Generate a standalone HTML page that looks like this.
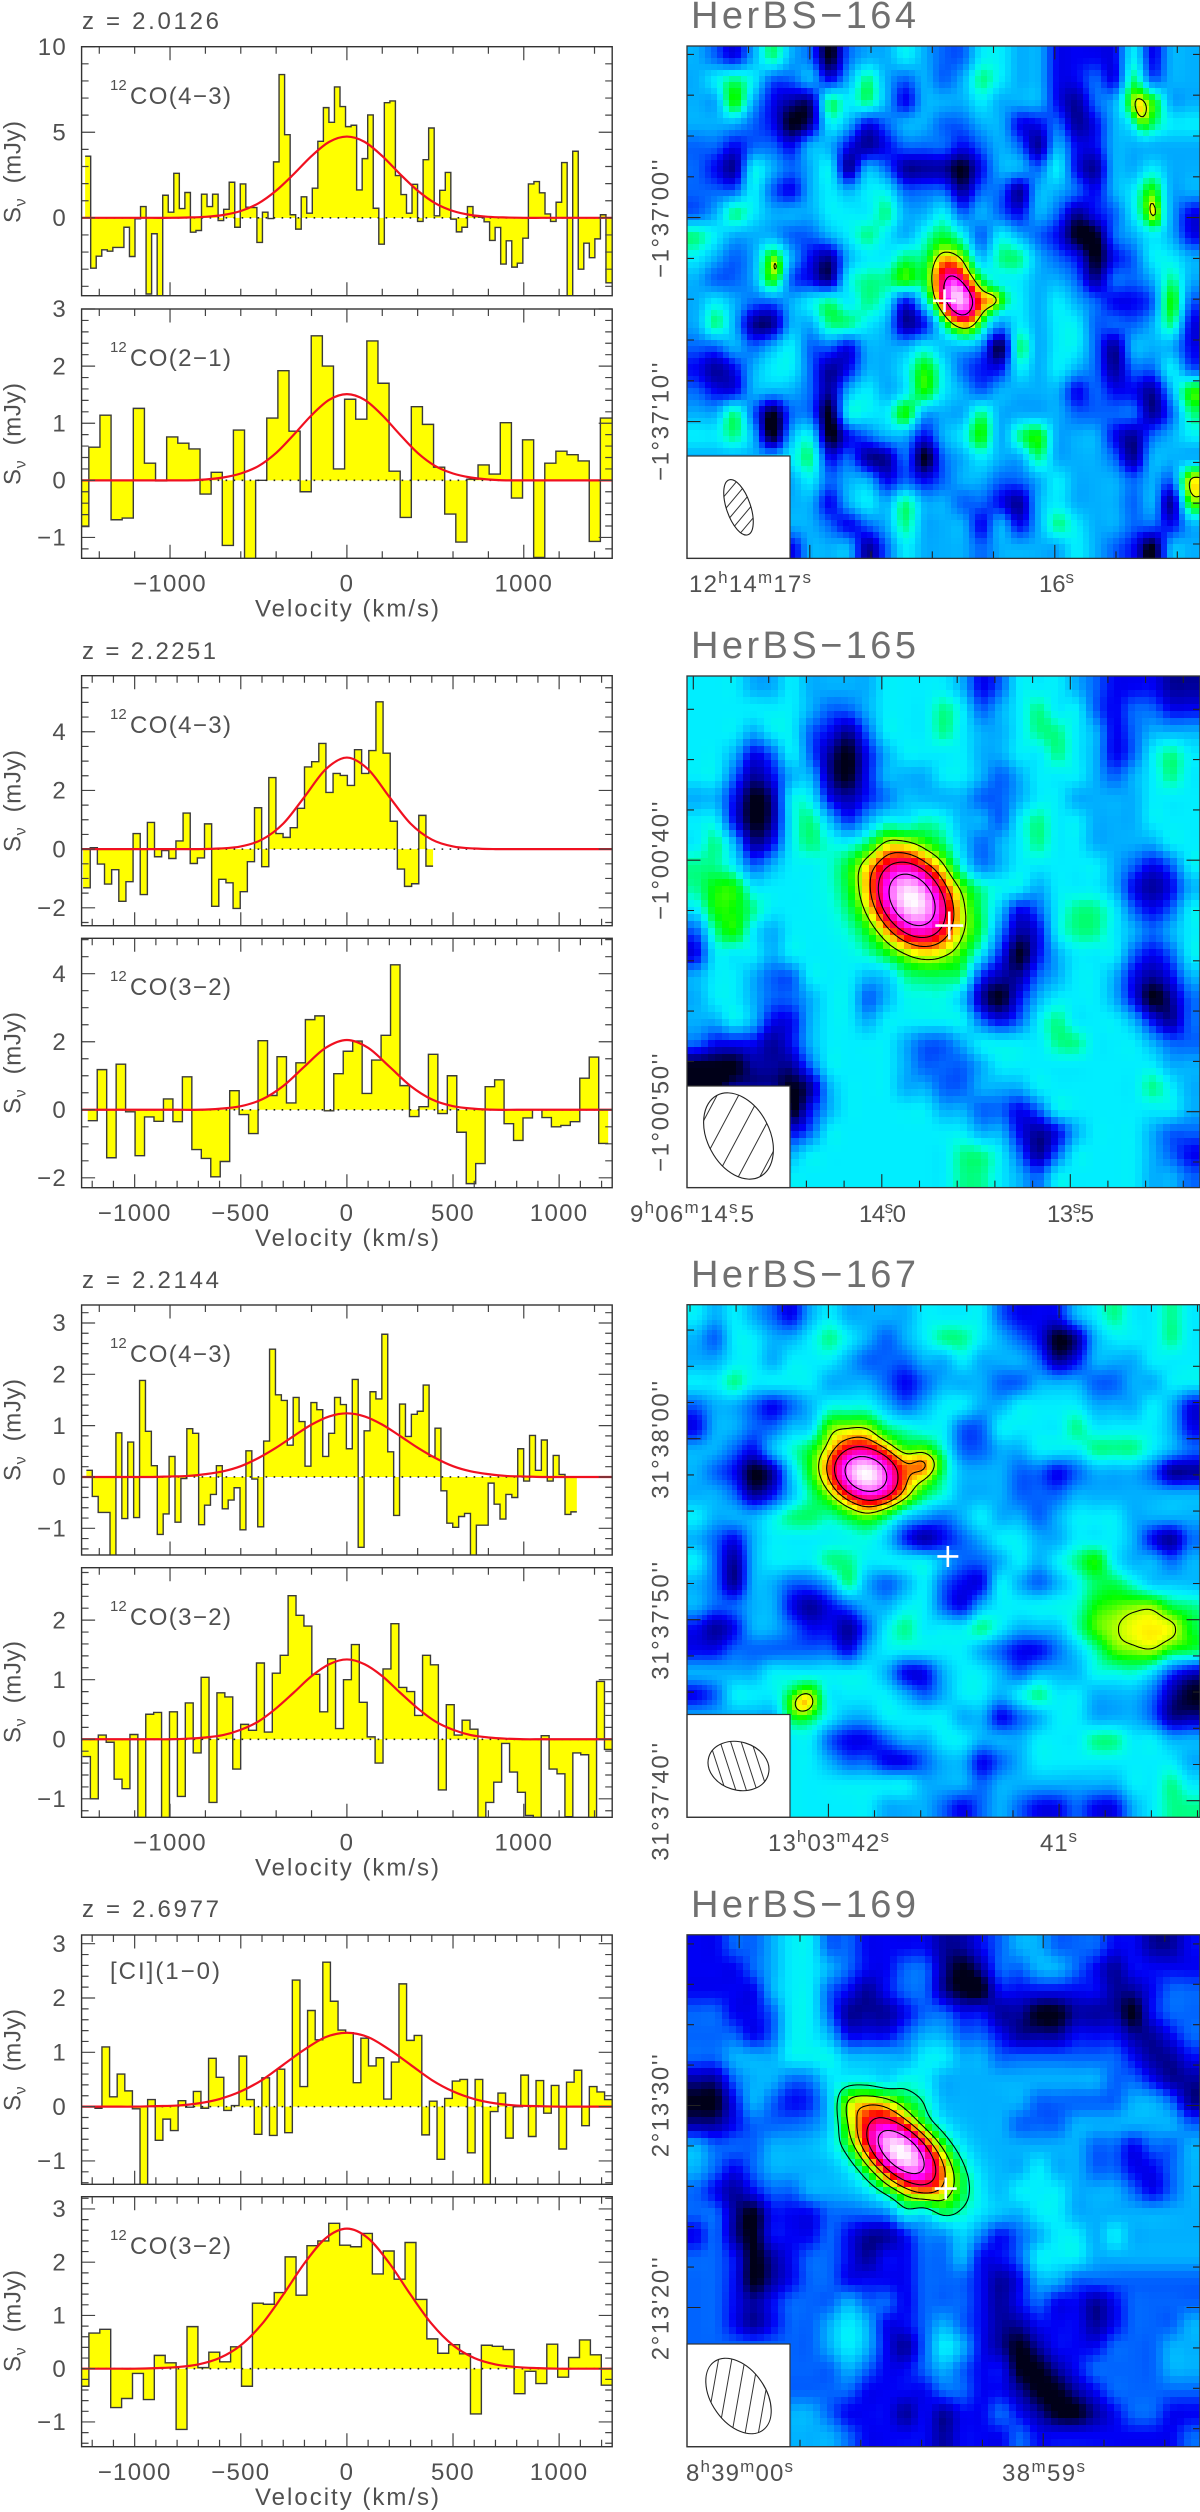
<!DOCTYPE html>
<html lang="en">
<head>
<meta charset="utf-8">
<title>HerBS CO spectra and continuum maps</title>
<style>
html,body{margin:0;padding:0;background:#fff;}
svg{display:block;}
.t{font-family:"Liberation Sans",sans-serif;fill:#505050;font-size:24px;}
.tick{letter-spacing:1.3px;}
.title{font-size:38px;fill:#707070;}
.sup{font-size:15px;}
.ssup{font-size:17px;}
</style>
</head>
<body>
<svg id="figure" xmlns="http://www.w3.org/2000/svg" width="1200" height="2512" viewBox="0 0 1200 2512">
<rect x="0" y="0" width="1200" height="2512" fill="#fff"/>
<g id="plots"></g>
<g id="maps"></g>

<text class="t" x="82" y="29" textLength="137" xml:space="preserve">z = 2.0126</text>
<text class="t" x="82" y="659" textLength="134" xml:space="preserve">z = 2.2251</text>
<text class="t" x="82" y="1288" textLength="137" xml:space="preserve">z = 2.2144</text>
<text class="t" x="82" y="1917" textLength="137" xml:space="preserve">z = 2.6977</text>

<g>
<text class="t sup" x="110" y="90">12</text>
<text class="t" x="130" y="104" textLength="101">CO(4−3)</text>
<text class="t sup" x="110" y="352">12</text>
<text class="t" x="130" y="366" textLength="101">CO(2−1)</text>
<text class="t sup" x="110" y="719">12</text>
<text class="t" x="130" y="733" textLength="101">CO(4−3)</text>
<text class="t sup" x="110" y="981">12</text>
<text class="t" x="130" y="995" textLength="101">CO(3−2)</text>
<text class="t sup" x="110" y="1348">12</text>
<text class="t" x="130" y="1362" textLength="101">CO(4−3)</text>
<text class="t sup" x="110" y="1611">12</text>
<text class="t" x="130" y="1625" textLength="101">CO(3−2)</text>
<text class="t" x="110" y="1979" textLength="110">[CI](1−0)</text>
<text class="t sup" x="110" y="2240">12</text>
<text class="t" x="130" y="2254" textLength="101">CO(3−2)</text>
</g>

<g>
<text class="t" transform="translate(20.5,223) rotate(-90)" textLength="102" xml:space="preserve">S<tspan dy="5" font-size="16">ν</tspan><tspan dy="-5">  (mJy)</tspan></text>
<text class="t" transform="translate(20.5,485) rotate(-90)" textLength="102" xml:space="preserve">S<tspan dy="5" font-size="16">ν</tspan><tspan dy="-5">  (mJy)</tspan></text>
<text class="t" transform="translate(20.5,852) rotate(-90)" textLength="102" xml:space="preserve">S<tspan dy="5" font-size="16">ν</tspan><tspan dy="-5">  (mJy)</tspan></text>
<text class="t" transform="translate(20.5,1114) rotate(-90)" textLength="102" xml:space="preserve">S<tspan dy="5" font-size="16">ν</tspan><tspan dy="-5">  (mJy)</tspan></text>
<text class="t" transform="translate(20.5,1481) rotate(-90)" textLength="102" xml:space="preserve">S<tspan dy="5" font-size="16">ν</tspan><tspan dy="-5">  (mJy)</tspan></text>
<text class="t" transform="translate(20.5,1743) rotate(-90)" textLength="102" xml:space="preserve">S<tspan dy="5" font-size="16">ν</tspan><tspan dy="-5">  (mJy)</tspan></text>
<text class="t" transform="translate(20.5,2111) rotate(-90)" textLength="102" xml:space="preserve">S<tspan dy="5" font-size="16">ν</tspan><tspan dy="-5">  (mJy)</tspan></text>
<text class="t" transform="translate(20.5,2372) rotate(-90)" textLength="102" xml:space="preserve">S<tspan dy="5" font-size="16">ν</tspan><tspan dy="-5">  (mJy)</tspan></text>
</g>

<g>
<text class="t" x="255" y="616.5" textLength="184" xml:space="preserve">Velocity (km/s)</text>
<text class="t" x="255" y="1246" textLength="184" xml:space="preserve">Velocity (km/s)</text>
<text class="t" x="255" y="1875.5" textLength="184" xml:space="preserve">Velocity (km/s)</text>
<text class="t" x="255" y="2505" textLength="184" xml:space="preserve">Velocity (km/s)</text>
</g>

<g>
<text class="t title" x="691" y="28" textLength="225">HerBS−164</text>
<text class="t title" x="691" y="658" textLength="225">HerBS−165</text>
<text class="t title" x="691" y="1287" textLength="225">HerBS−167</text>
<text class="t title" x="691" y="1917" textLength="225">HerBS−169</text>
</g>

<g>
<text class="t" x="689" y="592" textLength="122">12<tspan class="ssup" dy="-9">h</tspan><tspan dy="9">14</tspan><tspan class="ssup" dy="-9">m</tspan><tspan dy="9">17</tspan><tspan class="ssup" dy="-9">s</tspan></text>
<text class="t" x="1039" y="592" textLength="35">16<tspan class="ssup" dy="-9">s</tspan></text>
<text class="t" x="630" y="1222" textLength="124">9<tspan class="ssup" dy="-9">h</tspan><tspan dy="9">06</tspan><tspan class="ssup" dy="-9">m</tspan><tspan dy="9">14</tspan><tspan class="ssup" dy="-9">s</tspan><tspan dy="9" dx="-6">.5</tspan></text>
<text class="t" x="859" y="1222" textLength="47">14<tspan class="ssup" dy="-9">s</tspan><tspan dy="9" dx="-6">.0</tspan></text>
<text class="t" x="1047" y="1222" textLength="47">13<tspan class="ssup" dy="-9">s</tspan><tspan dy="9" dx="-6">.5</tspan></text>
<text class="t" x="768" y="1851" textLength="121">13<tspan class="ssup" dy="-9">h</tspan><tspan dy="9">03</tspan><tspan class="ssup" dy="-9">m</tspan><tspan dy="9">42</tspan><tspan class="ssup" dy="-9">s</tspan></text>
<text class="t" x="1040" y="1851" textLength="37">41<tspan class="ssup" dy="-9">s</tspan></text>
<text class="t" x="686" y="2481" textLength="107">8<tspan class="ssup" dy="-9">h</tspan><tspan dy="9">39</tspan><tspan class="ssup" dy="-9">m</tspan><tspan dy="9">00</tspan><tspan class="ssup" dy="-9">s</tspan></text>
<text class="t" x="1002" y="2481" textLength="83">38<tspan class="ssup" dy="-9">m</tspan><tspan dy="9">59</tspan><tspan class="ssup" dy="-9">s</tspan></text>
</g>

<g>
<text class="t" text-anchor="middle" letter-spacing="1.6" transform="translate(668.5,218) rotate(-90)">−1°37'00''</text>
<text class="t" text-anchor="middle" letter-spacing="1.6" transform="translate(668.5,421) rotate(-90)">−1°37'10''</text>
<text class="t" text-anchor="middle" letter-spacing="1.6" transform="translate(668.5,860) rotate(-90)">−1°00'40''</text>
<text class="t" text-anchor="middle" letter-spacing="1.6" transform="translate(668.5,1112) rotate(-90)">−1°00'50''</text>
<text class="t" text-anchor="middle" letter-spacing="1.6" transform="translate(668.5,1439) rotate(-90)">31°38'00''</text>
<text class="t" text-anchor="middle" letter-spacing="1.6" transform="translate(668.5,1620) rotate(-90)">31°37'50''</text>
<text class="t" text-anchor="middle" letter-spacing="1.6" transform="translate(668.5,1801) rotate(-90)">31°37'40''</text>
<text class="t" text-anchor="middle" letter-spacing="1.6" transform="translate(668.5,2105) rotate(-90)">2°13'30''</text>
<text class="t" text-anchor="middle" letter-spacing="1.6" transform="translate(668.5,2308) rotate(-90)">2°13'20''</text>
</g>
</svg>

<script>
/* ---------- spectra: flux density per velocity bin (mJy) ---------- */
const hb164Co43Flux=[3.6,-2.94,-2.24,-1.87,-1.95,-1.73,-1.73,-.55,-2.26,-.06,.66,-4.45,-.93,-5,1.32,.33,2.6,.54,1.48,-.84,-.74,1.38,.66,1.38,-.16,.5,2.08,-.55,1.98,.62,.6,-1.44,.33,-.04,3.27,8.37,4.86,.18,-.66,1.23,.27,1.73,4.47,6.44,5.58,7.65,6.5,5.33,5.41,1.63,3.46,6.01,.56,-1.54,6.73,6.83,2.47,1.36,.27,1.96,-.21,3.4,5.25,.12,1.61,2.65,-.08,-.82,-.55,.66,.08,.04,-.23,-1.32,-.56,-2.7,-1.34,-2.88,-2.65,-1.19,1.98,2.12,1.46,.23,-.21,.91,3.23,-5,3.89,-3,-1.48,-2.33,-1.23,.18,-3.8];
const hb164Co21Flux=[-.81,.58,1.14,-.69,-.66,1.26,.3,-.01,.76,.65,.55,-.24,.14,-1.14,.88,-1.5,0,1.09,1.92,.86,-.2,2.53,2.0,.2,1.42,1.07,2.44,1.7,.16,-.65,1.29,.98,.23,-.59,-1.08,.02,.27,.11,1.01,-.31,.71,-1.35,.3,.51,.45,.34,-1.07,1.09];
const hb165Co43Flux=[-1.32,.05,-.51,-1.19,-.7,-1.78,-1.11,.53,-1.55,.91,-.26,-.05,-.32,.28,1.23,-.49,-.3,.86,-1.95,-1.03,-1.15,-2.02,-1.45,-.43,1.41,-.6,2.44,.53,.4,.73,1.39,2.8,2.98,3.6,1.93,2.58,2.51,2.17,3.39,2.58,3.36,5.02,3.27,.95,-.68,-1.27,-1.18,1.15,-.58];
const hb165Co32Flux=[-.32,1.18,-1.41,1.34,-.06,-1.35,-.21,-.34,.32,-.35,.97,-1.17,-1.43,-1.97,-1.52,.56,-.14,-.7,2.03,.42,1.56,.2,1.38,2.65,2.76,-.03,1.06,1.72,2.02,.48,1.46,2.19,4.26,.71,-.2,.09,1.63,-.11,1.0,-.66,-2.17,-1.58,.68,.88,-.41,-.9,-.24,0,-.23,-.5,-.46,-.35,.93,1.55,-.99];
const hb167Co43Flux=[.13,-.38,-.69,-.69,-1.6,.86,-.81,.68,-.79,1.88,.89,.22,-1.12,-.72,.4,-.88,-.03,.94,.85,-.93,-.55,-.34,.22,-.62,-.45,-.21,-1.03,.51,-.04,-.97,.7,2.49,1.6,1.49,.62,1.55,1.08,.21,1.45,1.31,.4,.85,1.55,1.41,.55,1.9,-1.37,.9,1.66,1.52,2.78,.49,-.75,1.42,.79,1.22,1.28,1.79,.4,.95,-.27,-.9,-.98,-.77,-.71,-1.6,-.94,-.94,-.12,-.53,-.82,-.34,-.4,.55,-.08,.81,.13,.72,-.08,.42,.05,-.73,-.68];
const hb167Co32Flux=[-.29,-1,.07,-.05,-.67,-.83,.08,-1.4,.42,.45,-1.4,.46,-.96,.61,-.23,1.04,-1.06,.78,.71,-.5,.25,.15,1.28,.12,1.11,1.41,2.41,2.08,1.9,1.09,.46,1.35,.18,1.0,1.59,.62,.04,-.4,1.18,1.94,.87,.8,.4,1.41,1.25,-.85,.58,.07,.32,.17,-1.4,-1.06,-.72,-.07,-.55,-.89,-1.28,-1.4,.06,-.5,-.58,-1.3,-.23,-.26,-1.4,.97,-.17];
const hb169CiFlux=[-.03,1.1,.18,.6,.29,-.04,-1.6,.13,-.62,-.23,-.44,.11,-.01,.28,-.03,.89,.54,-.07,.02,.93,.13,-.51,.53,-.53,.69,-.48,2.33,.37,1.77,1.23,2.66,1.94,1.41,1.36,.44,1.26,.75,.9,.14,.82,2.26,1.22,1.31,-.52,.1,-.97,.15,.47,.5,-.85,.5,-1.6,-.09,.25,-.58,0,.58,-.55,.48,-.12,.39,-.78,.45,.67,-.35,.37,.27,.13];
const hb169Co32Flux=[-.33,.67,.74,-.73,-.56,-.09,-.58,.25,.11,-1.14,.79,.02,.31,.13,.41,-.33,1.23,1.21,1.43,2.1,1.38,2.31,2.4,2.73,2.32,2.29,2.54,1.78,2.21,1.68,2.37,1.3,.56,.29,.45,.28,-.85,.44,.42,.36,-.47,-.05,-.28,.46,-.16,.21,.54,.26,-.31];

/* first and last bin edge of every spectrum (km/s) */
const hb164Co43Edges=[-1480,1496];
const hb164Co21Edges=[-1522,1496];
const hb165Co43Edges=[-1243,406];
const hb165Co32Edges=[-1221,1231];
const hb167Co43Edges=[-1473,1300];
const hb167Co32Edges=[-1495,1501];
const hb169CiEdges=[-1190,1250];
const hb169Co32Edges=[-1267,1250];

/* red fit curves: velocity samples and flux read at each sample */
const fitVelocityWide=[-1500,-1400,-1300,-1200,-1100,-1000,-900,-800,-700,-600,-500,-400,-300,-200,-100,0,100,200,300,400,500,600,700,800,900,1000,1100,1200,1300,1400,1500];
const fitVelocityNarrow=[-1300,-1200,-1100,-1000,-900,-800,-700,-600,-500,-400,-300,-200,-100,0,100,200,300,400,500,600,700,800,900,1000,1100,1200,1300];
const hb164Co43Fit=[0,0,0,0,0,0,.02,.06,.165,.4,.85,1.59,2.56,3.61,4.44,4.75,4.44,3.61,2.56,1.59,.85,.4,.165,.06,.02,0,0,0,0,0,0];
const hb164Co21Fit=[0,0,0,0,0,0,0,.015,.05,.12,.25,.48,.8,1.14,1.41,1.51,1.41,1.14,.8,.48,.25,.12,.05,.015,0,0,0,0,0,0,0];
const hb165Co43Fit=[0,0,0,0,0,0,0,.02,.09,.325,.87,1.78,2.72,3.12,2.72,1.78,.87,.325,.09,.02,0,0,0,0,0,0,0];
const hb165Co32Fit=[0,0,0,0,0,0,0,.03,.105,.305,.7,1.27,1.82,2.05,1.82,1.27,.7,.305,.105,.03,0,0,0,0,0,0,0];
const hb167Co43Fit=[0,0,0,0,0,.01,.02,.055,.11,.21,.37,.57,.8,1.02,1.18,1.24,1.18,1.02,.8,.57,.37,.21,.11,.055,.02,.01,0,0,0,0,0];
const hb167Co32Fit=[0,0,0,0,0,0,.01,.03,.07,.16,.3,.52,.785,1.06,1.26,1.34,1.26,1.06,.785,.52,.3,.16,.07,.03,.01,0,0,0,0,0,0];
const hb169CiFit=[0,0,0,0,.01,.02,.06,.14,.28,.49,.77,1.05,1.28,1.36,1.28,1.05,.77,.49,.28,.14,.06,.02,.01,0,0,0,0];
const hb169Co32Fit=[0,0,0,0,.01,.03,.08,.2,.44,.84,1.39,1.98,2.45,2.63,2.45,1.98,1.39,.84,.44,.2,.08,.03,.01,0,0,0,0];

/* axis tick labels */
const xTickLabelsWide=[-1000,0,1000];
const xTickLabelsNarrow=[-1000,-500,0,500,1000];
const hb164Co43YTicks=[0,5,10];
const hb164Co21YTicks=[-1,0,1,2,3];
const hb165Co43YTicks=[-2,0,2,4];
const hb165Co32YTicks=[-2,0,2,4];
const hb167Co43YTicks=[-1,0,1,2,3];
const hb167Co32YTicks=[-1,0,1,2];
const hb169CiYTicks=[-1,0,1,2,3];
const hb169Co32YTicks=[-1,0,1,2,3];

/* continuum maps: coarse intensity level per grid node (0 = darkest) */
const map164Levels=["432464303445433554422225244","456533424643434654422326344","447421165642444544421347744","444320154234433442231245655","332332442123332343142244444","321543451431110244352144544","333532454553331331443245744","346544455564453432431235742","654443345654565354320034542","543474214556566466432023554","433473215667555555443133464","454334565652455555454322373","464114466541244335455333462","334345332444543206455314442","212455312445753225454313353","322444314545754344442322147","446303305557444644443333136","556404502344245746744421345","444445623113034544644431444","444444534423234433454443438","444444424546443321454443417","444444432346444242465443324","444442444135444344445432044"];
const map165Levels=["555445444455554235554322211","555555433455565345655323322","555455321355565445665423444","554235310245555445565423565","553124410244455434555434565","442015521234444334554444555","552015642344554435655444555","564125654455554345655444455","665345555555554345555543235","677555555555555555455542124","577655555555555542356653235","367545555555555531256654345","255545555555555420245553235","455433555445555211345542124","455433455345554102455542013","445422455455555323565554213","322212455554334555566555433","000111355554333455555555544","001110145554433444555555654","444440245555544332355555554","444442355555555442124555433","444444555555556653135555432","444445555555556654355555443"];
const map167Levels=["545432454444555532224565565","435544565434566543201455565","445545554333445444312444555","556555544432344433444334455","344323455543455445555444542","244334466655553355556555542","443245555555653344555666543","432014555555654443323444311","443124555555554443334444444","544456655543334544345554444","432455555542123455445554213","531455566555543345456754434","431443346434532254345665444","433442123445532455555666655","212443221356555654445666665","223333332455555432234566655","444455555542245543444555421","235556755554345545655444310","444446654455554423455444311","444445532234455444555665544","444445543322344234555555554","444445555555444344444445565","444445555544432343223224566"];
const map169Levels=["223345533222211234433322112","222345543223310133443212222","222245532123310022222211233","332235531112332211001110233","333235542223443321112221123","334445554444554433333332112","113443344445544444444433211","002432235555544444333334431","112333334444444443334444443","433344444444444444444332334","432344444444444444544332234","321233444444444445554443234","331022233334344444554444444","231022232112334323455454444","332012332122334223555444444","332012332222333212443333333","332123334332333212322123333","332123345422343211222123334","333333345421354210122233344","333333334322343220012333344","333333333222233221001233333","333334432221212232100123322","333334443222212223222222223"];

/* compact sources: east-west and north-south offset (arcsec), widths (arcsec), tilt (deg), added level */
const map164Sources=[[.71,-.25,1.37,.76,65,9.5],[2.45,-.1,.45,.4,0,2.6],[9.66,-9.2,.68,.3,80,2.1],[10.3,-4.4,.5,.22,80,1.6],[-8.2,-1.76,.32,.15,80,1.3],[12.3,9,.8,.6,80,.4]];
const map165Sources=[[-1.25,-1.27,1.67,1.2,55,10]];
const map167Sources=[[-4.3,-4.82,1.77,1.38,25,10],[-1,-5.36,.9,.6,0,2.2],[11.4,3.8,2.5,1.4,5,2.8],[-7.8,7.9,.6,.55,0,2.3]];
const map169Sources=[[-2.1,-1.93,2.2,1.15,42,11]];

/* contour levels on the same intensity scale */
const map164Contours=[8.3,12];
const map165Contours=[8,9.8,11.2,13];
const map167Contours=[8.2,9.5,11,13];
const map169Contours=[5.9,7.8,9.3,11,13];

/* cross marking the target position, arcsec from map centre */
const map164Cross=[.05,-.07];
const map165Cross=[.23,-.25];
const map167Cross=[.24,-.25];
const map169Cross=[.11,-.11];

/* colour table */
const colorLevels=[0,1,2,3,4,5,5.5,6,7,8,8.7,9.5,10.5,11.5,12.5,13.5,15];
const colorTable=[[0,0,24],[0,0,160],[0,0,245],[0,100,255],[0,175,255],[0,238,255],[0,255,224],[0,255,144],[0,255,0],[160,255,0],[255,255,0],[255,144,0],[255,0,0],[255,0,128],[255,0,255],[255,112,255],[255,255,255]];

/* ---------- layout ---------- */
const NS='http://www.w3.org/2000/svg';
const plotLeft=81.6, plotRight=612.2;
const panelLayout=[
 {id:'hb164-co43',top:46.7,bottom:295.7,yMin:-4.55,yMax:10,flux:hb164Co43Flux,edges:hb164Co43Edges,fit:hb164Co43Fit,fitV:fitVelocityWide,yTicks:hb164Co43YTicks,yMinor:1,xMax:1500,xTicks:null},
 {id:'hb164-co21',top:309,bottom:558.3,yMin:-1.365,yMax:3,flux:hb164Co21Flux,edges:hb164Co21Edges,fit:hb164Co21Fit,fitV:fitVelocityWide,yTicks:hb164Co21YTicks,yMinor:.2,xMax:1500,xTicks:xTickLabelsWide},
 {id:'hb165-co43',top:675.7,bottom:925.7,yMin:-2.61,yMax:5.91,flux:hb165Co43Flux,edges:hb165Co43Edges,fit:hb165Co43Fit,fitV:fitVelocityNarrow,yTicks:hb165Co43YTicks,yMinor:.5,xMax:1250,xTicks:null},
 {id:'hb165-co32',top:938.3,bottom:1187.7,yMin:-2.29,yMax:5.04,flux:hb165Co32Flux,edges:hb165Co32Edges,fit:hb165Co32Fit,fitV:fitVelocityNarrow,yTicks:hb165Co32YTicks,yMinor:.5,xMax:1250,xTicks:xTickLabelsNarrow},
 {id:'hb167-co43',top:1305,bottom:1555,yMin:-1.52,yMax:3.35,flux:hb167Co43Flux,edges:hb167Co43Edges,fit:hb167Co43Fit,fitV:fitVelocityWide,yTicks:hb167Co43YTicks,yMinor:.2,xMax:1500,xTicks:null},
 {id:'hb167-co32',top:1567.7,bottom:1817.3,yMin:-1.31,yMax:2.88,flux:hb167Co32Flux,edges:hb167Co32Edges,fit:hb167Co32Fit,fitV:fitVelocityWide,yTicks:hb167Co32YTicks,yMinor:.2,xMax:1500,xTicks:xTickLabelsWide},
 {id:'hb169-ci',top:1935,bottom:2184.3,yMin:-1.43,yMax:3.16,flux:hb169CiFlux,edges:hb169CiEdges,fit:hb169CiFit,fitV:fitVelocityNarrow,yTicks:hb169CiYTicks,yMinor:.2,xMax:1250,xTicks:null},
 {id:'hb169-co32',top:2196.7,bottom:2446.7,yMin:-1.465,yMax:3.23,flux:hb169Co32Flux,edges:hb169Co32Edges,fit:hb169Co32Fit,fitV:fitVelocityNarrow,yTicks:hb169Co32YTicks,yMinor:.2,xMax:1250,xTicks:xTickLabelsNarrow}
];

function svgEl(tag,attrs,parent){
  const e=document.createElementNS(NS,tag);
  for(const k in attrs){e.setAttribute(k,attrs[k]);}
  parent.appendChild(e);
  return e;
}
function fmt(n){return (n<0?'\u2212':'')+Math.abs(n);}

const plotsRoot=document.getElementById('plots');
panelLayout.forEach(function(p,idx){
  const g=svgEl('g',{},plotsRoot);
  
  
  const xs=function(v){return plotLeft+(v+p.xMax)/(2*p.xMax)*(plotRight-plotLeft);};
  const ys=function(f){return p.bottom-(f-p.yMin)/(p.yMax-p.yMin)*(p.bottom-p.top);};

  const clip=svgEl('clipPath',{id:'clip-'+p.id},g);
  svgEl('rect',{x:plotLeft,y:p.top,width:plotRight-plotLeft,height:p.bottom-p.top},clip);

  /* histogram */
  const n=p.flux.length, w=(p.edges[1]-p.edges[0])/n;
  let step='', area='M'+xs(p.edges[0]).toFixed(2)+' '+ys(0).toFixed(2);
  for(let i=0;i<n;i++){
    const x0=xs(p.edges[0]+i*w).toFixed(2), x1=xs(p.edges[0]+(i+1)*w).toFixed(2), y=ys(p.flux[i]).toFixed(2);
    step+=(i===0?'M':'L')+x0+' '+y+'L'+x1+' '+y;
    area+='L'+x0+' '+y+'L'+x1+' '+y;
  }
  area+='L'+xs(p.edges[1]).toFixed(2)+' '+ys(0).toFixed(2)+'Z';
  const hg=svgEl('g',{'clip-path':'url(#clip-'+p.id+')'},g);
  
  
  const fill=svgEl('path',{d:area,fill:'#ffff00',stroke:'none'},hg);
  
  
  const outline=svgEl('path',{d:step,fill:'none',stroke:'#3a3a3a','stroke-width':'1.4'},hg);
  
  

  const zero=svgEl('line',{x1:plotLeft,x2:plotRight,y1:ys(0),y2:ys(0),stroke:'#222','stroke-width':'1.6','stroke-dasharray':'1.6 6.4'},hg);
  
  

  /* fit curve */
  const pts=p.fitV.map(function(v,i){return [xs(v),ys(p.fit[i])];});
  let d='M'+pts[0][0].toFixed(2)+' '+pts[0][1].toFixed(2);
  for(let i=0;i<pts.length-1;i++){
    const a=pts[Math.max(i-1,0)],b=pts[i],c=pts[i+1],e=pts[Math.min(i+2,pts.length-1)];
    d+='C'+(b[0]+(c[0]-a[0])/6).toFixed(2)+' '+(b[1]+(c[1]-a[1])/6).toFixed(2)+' '+(c[0]-(e[0]-b[0])/6).toFixed(2)+' '+(c[1]-(e[1]-b[1])/6).toFixed(2)+' '+c[0].toFixed(2)+' '+c[1].toFixed(2);
  }
  const fitLine=svgEl('path',{d:d,fill:'none',stroke:'#f01020','stroke-width':'2.2'},hg);
  
  

  /* ticks */
  let tk='';
  const xMajor=p.xMax===1500?1000:500, xMinor=p.xMax===1500?200:100;
  for(let v=-Math.floor(p.xMax/xMinor)*xMinor;v<=p.xMax;v+=xMinor){
    const L=(v%xMajor===0)?13.5:7, X=xs(v).toFixed(2);
    tk+='M'+X+' '+p.top+'V'+(p.top+L)+'M'+X+' '+p.bottom+'V'+(p.bottom-L);
  }
  const yMajor=p.yTicks[1]-p.yTicks[0];
  const kStart=Math.ceil(p.yMin/p.yMinor-1e-6), kEnd=Math.floor(p.yMax/p.yMinor+1e-6);
  for(let k=kStart;k<=kEnd;k++){
    const f=k*p.yMinor, r=Math.abs(f/yMajor-Math.round(f/yMajor));
    const L=r<1e-6?13.5:7, Y=ys(f).toFixed(2);
    tk+='M'+plotLeft+' '+Y+'H'+(plotLeft+L)+'M'+plotRight+' '+Y+'H'+(plotRight-L);
  }
  const ticks=svgEl('path',{d:tk,fill:'none',stroke:'#444','stroke-width':'1.2'},g);
  
  

  const frame=svgEl('rect',{x:plotLeft,y:p.top,width:plotRight-plotLeft,height:p.bottom-p.top,fill:'none',stroke:'#333','stroke-width':'1.4'},g);
  
  

  /* tick labels */
  p.yTicks.forEach(function(f){
    const t=svgEl('text',{'class':'t tick',x:67,y:(ys(f)+8.2).toFixed(1),'text-anchor':'end'},g);
    
    
    t.textContent=fmt(f);
  });
  if(p.xTicks){
    p.xTicks.forEach(function(v){
      const t=svgEl('text',{'class':'t tick',x:xs(v).toFixed(1),y:(p.bottom+33.4).toFixed(1),'text-anchor':'middle'},g);
      
      
      t.textContent=fmt(v);
    });
  }
});

/* ---------- maps ---------- */
const mapLayout=[
 {id:'164',top:46,bottom:558.4,rows:map164Levels,sources:map164Sources,contours:map164Contours,cross:map164Cross,scale:20.4,cell:6,crossArm:11.4,
  decAnchor:217.6,raAnchor:809.8,raScale:245,raStep:.25,raEvery:4,
  box:456,beam:[507.3,29,12,71,-50,9]},
 {id:'165',top:676,bottom:1187.6,rows:map165Levels,sources:map165Sources,contours:map165Contours,cross:map165Cross,scale:25.15,cell:7,crossArm:14,
  decAnchor:860.2,raAnchor:881.8,raScale:376.9,raStep:.1,raEvery:5,
  box:1086,beam:[1136,46,31,62,-62,19]},
 {id:'167',top:1304.7,bottom:1817.3,rows:map167Levels,sources:map167Sources,contours:map167Contours,cross:map167Cross,scale:18.1,cell:5,crossArm:10.5,
  decAnchor:1438.7,raAnchor:828.4,raScale:230.7,raStep:.2,raEvery:5,
  box:1714.5,beam:[1766,31,24,17,72,10]},
 {id:'169',top:1934.8,bottom:2446.7,rows:map169Levels,sources:map169Sources,contours:map169Contours,cross:map169Cross,scale:20.2,cell:7,crossArm:11,
  decAnchor:2105.5,raAnchor:739.2,raScale:304,raStep:.2,raEvery:5,
  box:2344,beam:[2396,42,27,55,-80,13]}
];
const mapLeft=687, mapRight=1200;

function colorFor(v){
  if(v<=colorLevels[0]) return 'rgb('+colorTable[0].join(',')+')';
  for(let i=1;i<colorLevels.length;i++){
    if(v<=colorLevels[i]){
      const t=(v-colorLevels[i-1])/(colorLevels[i]-colorLevels[i-1]), a=colorTable[i-1], b=colorTable[i];
      return 'rgb('+Math.round(a[0]+(b[0]-a[0])*t)+','+Math.round(a[1]+(b[1]-a[1])*t)+','+Math.round(a[2]+(b[2]-a[2])*t)+')';
    }
  }
  return 'rgb(255,255,255)';
}
function catmull(a,b,c,d,t){
  return b+.5*t*(c-a+t*(2*a-5*b+4*c-d+t*(3*(b-c)+d-a)));
}
function gridValue(rows,gx,gy){
  const nr=rows.length,nc=rows[0].length;
  const ix=Math.floor(gx),iy=Math.floor(gy),tx=gx-ix,ty=gy-iy;
  const col=[];
  for(let j=-1;j<=2;j++){
    const r=rows[Math.min(nr-1,Math.max(0,iy+j))];
    const q=function(k){return r.charCodeAt(Math.min(nc-1,Math.max(0,ix+k)))-48;};
    col.push(catmull(q(-1),q(0),q(1),q(2),tx));
  }
  return catmull(col[0],col[1],col[2],col[3],ty);
}

const mapsRoot=document.getElementById('maps');
mapLayout.forEach(function(m){
  const W=mapRight-mapLeft, H=m.bottom-m.top;
  const cx=mapLeft+W/2, cy=m.top+H/2;
  const nr=m.rows.length,nc=m.rows[0].length;
  const srcs=m.sources.map(function(s){
    const a=s[4]*Math.PI/180;
    return {x:s[0]*m.scale,y:s[1]*m.scale,sa:s[2]*m.scale,sb:s[3]*m.scale,c:Math.cos(a),s:Math.sin(a),amp:s[5]};
  });
  function field(px,py){
    let v=gridValue(m.rows,px/W*nc-.5,py/H*nr-.5);
    const dx=px-W/2, dy=py-H/2;
    for(let i=0;i<srcs.length;i++){
      const q=srcs[i], ex=dx-q.x, ey=dy-q.y;
      const u=(ex*q.c+ey*q.s)/q.sa, w=(-ex*q.s+ey*q.c)/q.sb;
      v+=q.amp*Math.exp(-.5*(u*u+w*w));
    }
    return v;
  }
  const g=svgEl('g',{},mapsRoot);
  
  
  const clip=svgEl('clipPath',{id:'map-clip-'+m.id},g);
  svgEl('rect',{x:mapLeft,y:m.top,width:W,height:H},clip);

  /* heatmap cells */
  const cells=svgEl('g',{'clip-path':'url(#map-clip-'+m.id+')','shape-rendering':'crispEdges'},g);
  
  
  for(let py=0;py<H;py+=m.cell){
    for(let px=0;px<W;px+=m.cell){
      const r=document.createElementNS(NS,'rect');
      r.setAttribute('x',mapLeft+px);
      r.setAttribute('y',Math.round(m.top)+py);
      r.setAttribute('width',m.cell);
      r.setAttribute('height',m.cell);
      r.setAttribute('fill',colorFor(field(px+m.cell/2,py+m.cell/2)));
      
      
      cells.appendChild(r);
    }
  }

  /* contours by marching squares on a fine sampling of the same field */
  const st=2, nx=Math.ceil(W/st)+1, ny=Math.ceil(H/st)+1, fine=[];
  for(let j=0;j<ny;j++){const row=new Float32Array(nx);for(let i=0;i<nx;i++){row[i]=field(i*st,j*st);}fine.push(row);}
  let cd='';
  m.contours.forEach(function(lv){
    for(let j=0;j<ny-1;j++){
      for(let i=0;i<nx-1;i++){
        const a=fine[j][i],b=fine[j][i+1],c=fine[j+1][i+1],e=fine[j+1][i];
        const P=[];
        if((a<lv)!==(b<lv)) P.push([i+(lv-a)/(b-a),j]);
        if((b<lv)!==(c<lv)) P.push([i+1,j+(lv-b)/(c-b)]);
        if((e<lv)!==(c<lv)) P.push([i+(lv-e)/(c-e),j+1]);
        if((a<lv)!==(e<lv)) P.push([i,j+(lv-a)/(e-a)]);
        for(let k=0;k+1<P.length;k+=2){
          cd+='M'+(mapLeft+P[k][0]*st).toFixed(1)+' '+(m.top+P[k][1]*st).toFixed(1)+'L'+(mapLeft+P[k+1][0]*st).toFixed(1)+' '+(m.top+P[k+1][1]*st).toFixed(1);
        }
      }
    }
  });
  const contour=svgEl('path',{d:cd,fill:'none',stroke:'#000','stroke-width':'1.05','stroke-linecap':'round','clip-path':'url(#map-clip-'+m.id+')'},g);
  
  

  /* ticks */
  let tk='';
  for(let k=-12;k<=30;k++){
    const x=m.raAnchor+k*m.raStep*m.raScale;
    if(x<mapLeft+1||x>mapRight-1) continue;
    const L=(((k%m.raEvery)+m.raEvery)%m.raEvery===0)?13.5:7;
    tk+='M'+x.toFixed(1)+' '+m.top+'V'+(m.top+L)+'M'+x.toFixed(1)+' '+m.bottom+'V'+(m.bottom-L);
  }
  for(let k=-20;k<=20;k++){
    const y=m.decAnchor+k*2*m.scale;
    if(y<m.top+1||y>m.bottom-1) continue;
    const L=(((k%5)+5)%5===0)?13.5:7;
    tk+='M'+mapLeft+' '+y.toFixed(1)+'H'+(mapLeft+L)+'M'+mapRight+' '+y.toFixed(1)+'H'+(mapRight-L);
  }
  const ticks=svgEl('path',{d:tk,fill:'none',stroke:'#222','stroke-width':'1.1'},g);
  
  

  /* beam box */
  const box=svgEl('rect',{x:mapLeft,y:m.box,width:103,height:m.bottom-m.box,fill:'#fff',stroke:'#333','stroke-width':'1.2'},g);
  
  
  const bx=738.5, by=m.beam[0], ra=m.beam[1], rb=m.beam[2], rot=m.beam[3], hatch=m.beam[4], gap=m.beam[5];
  const bc=svgEl('clipPath',{id:'beam-clip-'+m.id},g);
  svgEl('ellipse',{cx:bx,cy:by,rx:ra,ry:rb,transform:'rotate('+rot+' '+bx+' '+by+')'},bc);
  const hg=svgEl('g',{'clip-path':'url(#beam-clip-'+m.id+')'},g);
  
  
  const hp=document.createElementNS(NS,'path');
  hp.setAttribute('fill','none');
  hp.setAttribute('stroke','#333');
  hp.setAttribute('stroke-width','1');
  let hh='';
  const ca=Math.cos(hatch*Math.PI/180), sa=Math.sin(hatch*Math.PI/180);
  for(let k=-8;k<=8;k++){
    const ox=bx-sa*k*gap, oy=by+ca*k*gap;
    hh+='M'+(ox-ca*80).toFixed(1)+' '+(oy-sa*80).toFixed(1)+'L'+(ox+ca*80).toFixed(1)+' '+(oy+sa*80).toFixed(1);
  }
  hp.setAttribute('d',hh);
  
  
  hg.appendChild(hp);
  const beam=svgEl('ellipse',{cx:bx,cy:by,rx:ra,ry:rb,transform:'rotate('+rot+' '+bx+' '+by+')',fill:'none',stroke:'#222','stroke-width':'1.1'},g);
  
  

  /* cross */
  const crossX=cx+m.cross[0]*m.scale, crossY=cy+m.cross[1]*m.scale, arm=m.crossArm;
  const cross=svgEl('path',{d:'M'+(crossX-arm)+' '+crossY+'H'+(crossX+arm)+'M'+crossX+' '+(crossY-arm)+'V'+(crossY+arm),stroke:'#fff','stroke-width':'2.6',fill:'none'},g);
  
  

  const frame=svgEl('rect',{x:mapLeft,y:m.top,width:W,height:H,fill:'none',stroke:'#333','stroke-width':'1.3'},g);
  
  
});
</script>
</body>
</html>
